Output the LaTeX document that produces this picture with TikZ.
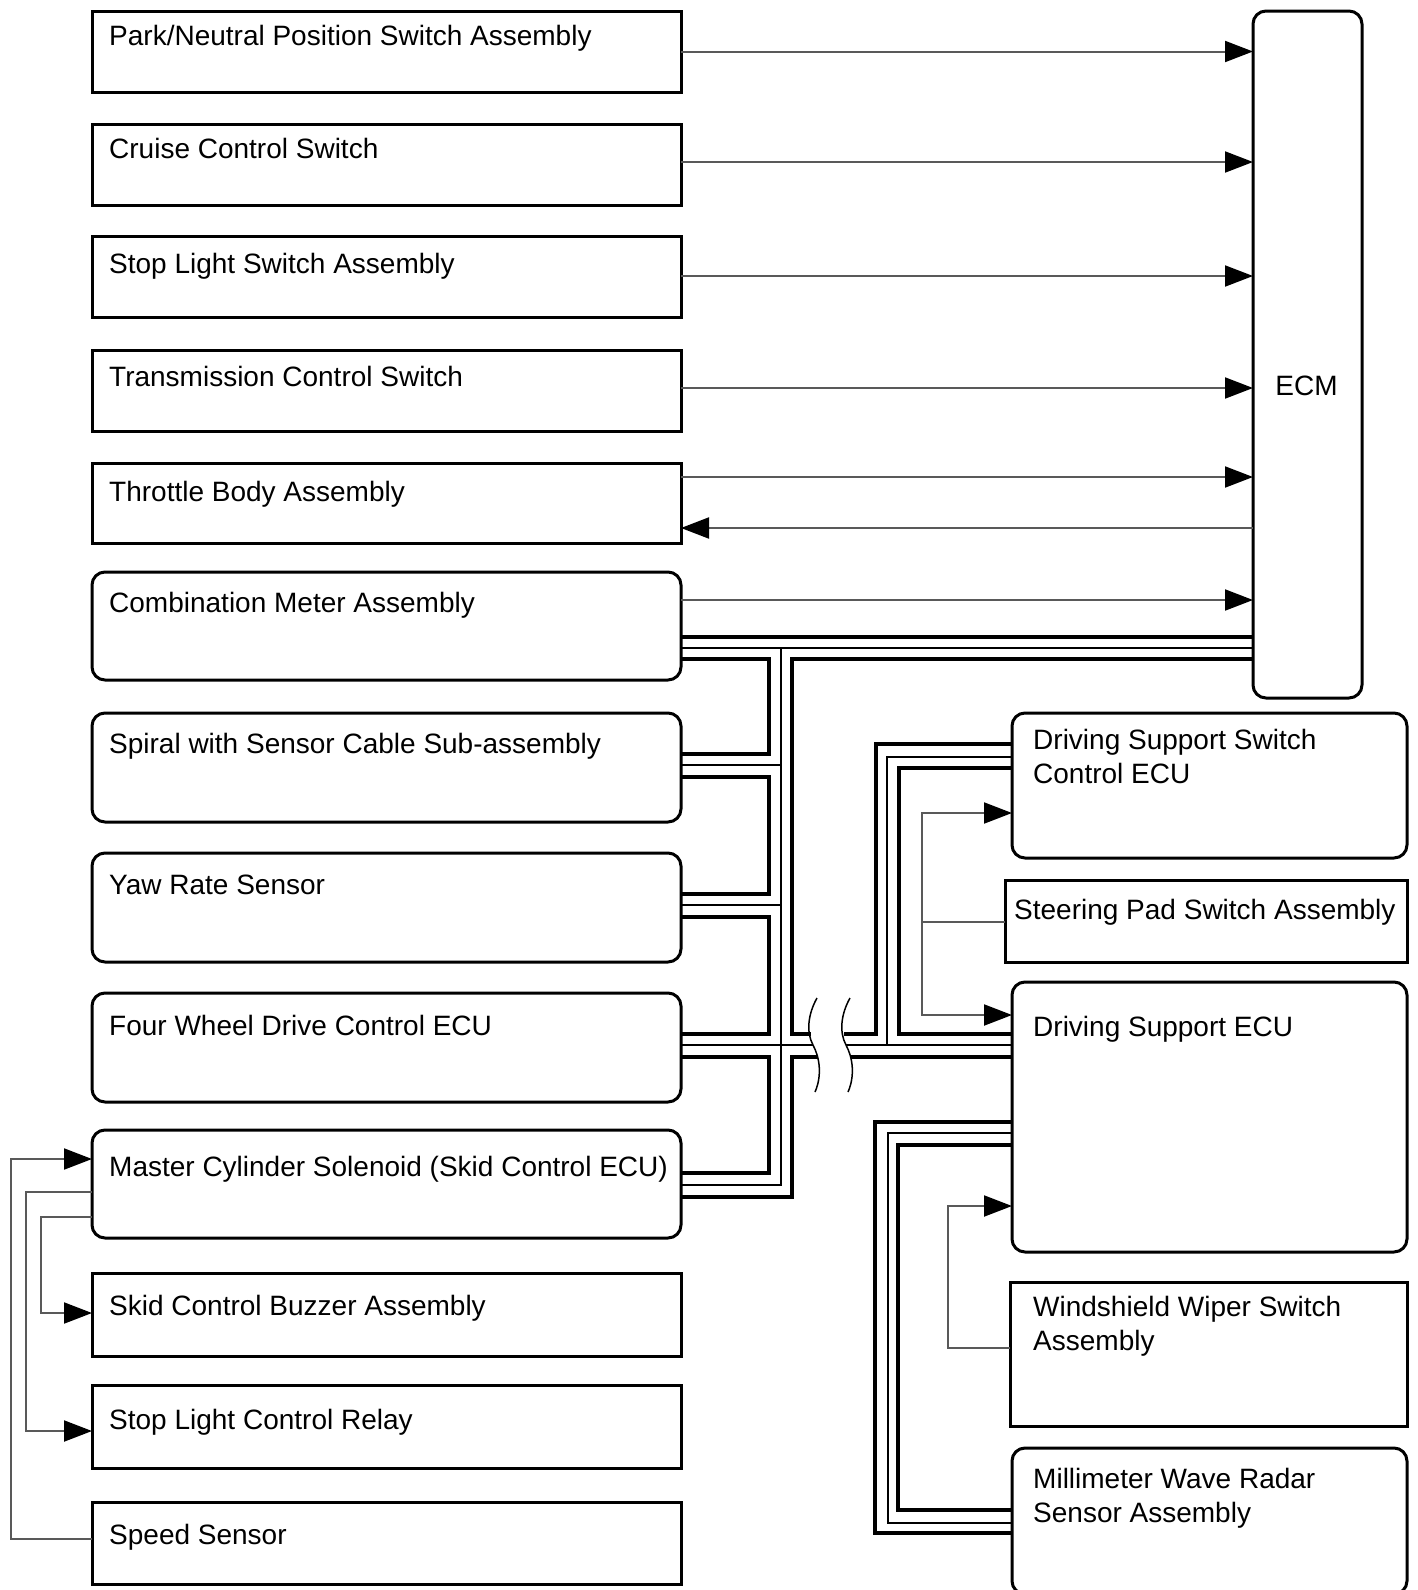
\documentclass[tikz,border=0pt]{standalone}
\usepackage{fontspec}
\setmainfont{Liberation Sans}
\usetikzlibrary{arrows.meta,calc}
\tikzset{
  box/.style={draw, line width=3pt, inner sep=0pt, outer sep=0pt},
  rbox/.style={box, rounded corners=13pt},
  txt/.style={anchor=base west, inner sep=0pt, font=\fontsize{28}{34}\selectfont, align=left},
  conn/.style={line width=2pt, draw=black!65},
  arr/.style={conn, -{Triangle[length=28pt,width=21pt,color=black]}},
  tbus/.style={line width=3.5pt, draw=black},
  nbus/.style={line width=1.4pt, draw=black},
  brk/.style={line width=1.5pt, draw=black},
}
\newcommand\bx[6]{\node[#2, minimum width={(#5)-(#3)}, minimum height={(#6)-(#4)}] (#1) at ({((#3)+(#5))/2},{((#4)+(#6))/2}) {};}
\begin{document}
\begin{tikzpicture}[x=1pt,y=-1pt]
\useasboundingbox (0,0) rectangle (1417,1590);
\fill[white] (0,0) rectangle (1417,1590);
% left boxes
\bx{pn}{box}{92}{11}{681}{92}
\bx{cc}{box}{92}{124}{681}{205}
\bx{sls}{box}{92}{236}{681}{317}
\bx{tcs}{box}{92}{350}{681}{431}
\bx{thr}{box}{92}{463}{681}{543}
\bx{cm}{rbox}{92}{572}{681}{680}
\bx{sp}{rbox}{92}{713}{681}{822}
\bx{yaw}{rbox}{92}{853}{681}{962}
\bx{fwd}{rbox}{92}{993}{681}{1102}
\bx{mc}{rbox}{92}{1130}{681}{1238}
\bx{buz}{box}{92}{1273}{681}{1356}
\bx{rel}{box}{92}{1385}{681}{1468}
\bx{spd}{box}{92}{1502}{681}{1584}
% ECM and right boxes
\bx{ecm}{rbox}{1253}{11}{1362}{698}
\bx{dssc}{rbox}{1012}{713}{1407}{858}
\bx{pad}{box}{1005}{880}{1407}{962}
\bx{dse}{rbox}{1012}{982}{1407}{1252}
\bx{wip}{box}{1010}{1282}{1407}{1426}
\bx{mmw}{rbox}{1012}{1448}{1407}{1594}
% texts
\node[txt] (pn-t) at ($(pn.north west)+(17,34)$) {Park/Neutral Position Switch Assembly};
\node[txt] (cc-t) at ($(cc.north west)+(17,34)$) {Cruise Control Switch};
\node[txt] (sls-t) at ($(sls.north west)+(17,37)$) {Stop Light Switch Assembly};
\node[txt] (tcs-t) at ($(tcs.north west)+(17,36)$) {Transmission Control Switch};
\node[txt] (thr-t) at ($(thr.north west)+(17,38)$) {Throttle Body Assembly};
\node[txt] (cm-t) at ($(cm.north west)+(17,40)$) {Combination Meter Assembly};
\node[txt] (sp-t) at ($(sp.north west)+(17,40)$) {Spiral with Sensor Cable Sub-assembly};
\node[txt] (yaw-t) at ($(yaw.north west)+(17,41)$) {Yaw Rate Sensor};
\node[txt] (fwd-t) at ($(fwd.north west)+(17,42)$) {Four Wheel Drive Control ECU};
\node[txt] (mc-t) at ($(mc.north west)+(17,46)$) {Master Cylinder Solenoid (Skid Control ECU)};
\node[txt] (buz-t) at ($(buz.north west)+(17,42)$) {Skid Control Buzzer Assembly};
\node[txt] (rel-t) at ($(rel.north west)+(17,44)$) {Stop Light Control Relay};
\node[txt] (spd-t) at ($(spd.north west)+(17,42)$) {Speed Sensor};
\node[txt, anchor=base] (ecm-t) at ($(ecm.north)+(-1,384)$) {ECM};
\node[txt] (dssc-t) at ($(dssc.north west)+(21,70)$) {Driving Support Switch\\Control ECU};
\node[txt] (pad-t) at ($(pad.north west)+(9,39)$) {Steering Pad Switch Assembly};
\node[txt] (dse-t) at ($(dse.north west)+(21,54)$) {Driving Support ECU};
\node[txt] (wip-t) at ($(wip.north west)+(23,68)$) {Windshield Wiper Switch\\Assembly};
\node[txt] (mmw-t) at ($(mmw.north west)+(21,74)$) {Millimeter Wave Radar\\Sensor Assembly};
% arrows to/from ECM
\draw[arr] (pn.east) -- (pn.east -| ecm.west);
\draw[arr] (cc.east |- 0,162) -- (ecm.west |- 0,162);
\draw[arr] (sls.east |- 0,276) -- (ecm.west |- 0,276);
\draw[arr] (tcs.east |- 0,388) -- (ecm.west |- 0,388);
\draw[arr] (thr.east |- 0,477) -- (ecm.west |- 0,477);
\draw[arr] (ecm.west |- 0,528) -- (thr.east |- 0,528);
\draw[arr] (cm.east |- 0,600) -- (ecm.west |- 0,600);
% bus, left part
\coordinate (b1a) at (811,1034);
\coordinate (b1m) at (813,1045);
\coordinate (b1b) at (818,1057);
\coordinate (b2a) at (844,1034);
\coordinate (b2m) at (846,1045);
\coordinate (b2b) at (851,1057);
\coordinate (jM) at (781,648);
\draw[tbus] (cm.east |- 0,637) -- (ecm.west |- 0,637);
\draw[nbus] (cm.east |- 0,648) -- (ecm.west |- 0,648);
\draw[tbus] (ecm.west |- 0,659) -- (792,659) -- (792,1034) -- (b1a);
\draw[nbus] (jM) -- (781,1185) -- (mc.east |- 0,1185);
\draw[tbus] (cm.east |- 0,659) -- (769,659) -- (769,754) -- (sp.east |- 0,754);
\draw[nbus] (sp.east |- 0,765) -- (781,765);
\draw[tbus] (sp.east |- 0,777) -- (769,777) -- (769,894) -- (yaw.east |- 0,894);
\draw[nbus] (yaw.east |- 0,905) -- (781,905);
\draw[tbus] (yaw.east |- 0,917) -- (769,917) -- (769,1034) -- (fwd.east |- 0,1034);
\draw[nbus] (fwd.east |- 0,1045) -- (b1m);
\draw[tbus] (fwd.east |- 0,1057) -- (769,1057) -- (769,1173) -- (mc.east |- 0,1173);
\draw[tbus] (b1b) -- (792,1057) -- (792,1197) -- (mc.east |- 0,1197);
% bus, right part
\draw[tbus] (b2a) -- (876,1034) -- (876,744) -- (dssc.west |- 0,744);
\draw[nbus] (b2m) -- (dse.west |- 0,1045);
\draw[nbus] (dssc.west |- 0,757) -- (887,757) -- (887,1045);
\draw[tbus] (dssc.west |- 0,768) -- (899,768) -- (899,1034) -- (dse.west |- 0,1034);
\draw[tbus] (b2b) -- (dse.west |- 0,1057);
\draw[tbus] (dse.west |- 0,1122) -- (875,1122) -- (875,1533) -- (mmw.west |- 0,1533);
\draw[nbus] (dse.west |- 0,1133) -- (888,1133) -- (888,1523) -- (mmw.west |- 0,1523);
\draw[tbus] (dse.west |- 0,1145) -- (898,1145) -- (898,1510) -- (mmw.west |- 0,1510);
% break marks
\draw[brk] (817,998) .. controls (808,1014) and (806,1032) .. (813,1045) .. controls (820,1058) and (822,1076) .. (815,1092);
\draw[brk] (850,998) .. controls (841,1014) and (839,1032) .. (846,1045) .. controls (853,1058) and (855,1076) .. (848,1092);
% steering pad and wiper
\coordinate (jp) at (922,922);
\draw[conn] (pad.west |- 0,922) -- (jp);
\draw[arr] (jp) |- (dssc.west |- 0,813);
\draw[arr] (jp) |- (dse.west |- 0,1015);
\draw[arr] (wip.west |- 0,1348) -| (948,1206) -- (dse.west |- 0,1206);
% left group
\draw[arr] (spd.west |- 0,1539) -| (11,1159) -- (mc.west |- 0,1159);
\draw[arr] (mc.west |- 0,1192) -| (26,1431) -- (rel.west |- 0,1431);
\draw[arr] (mc.west |- 0,1217) -| (41,1313) -- (buz.west |- 0,1313);
\end{tikzpicture}
\end{document}
